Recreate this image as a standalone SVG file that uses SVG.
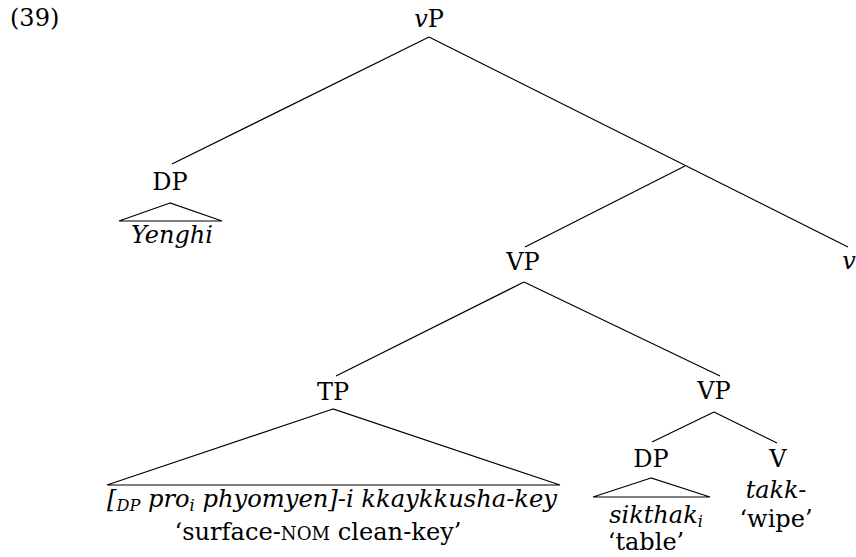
<svg xmlns="http://www.w3.org/2000/svg" width="856" height="557" viewBox="0 0 856 557">
<style>
text{font-family:"DejaVu Serif",serif;font-size:24px;fill:#000;text-anchor:middle}
.it{font-style:italic}
.sub{font-size:16px}
line,polygon{stroke:#000;stroke-width:1.2;fill:none}
</style>
<rect width="856" height="557" fill="#fff"/>
<text x="10" y="26" style="text-anchor:start">(39)</text>
<g id="connectors">
<line x1="429" y1="37" x2="172" y2="164"/>
<line x1="429" y1="37" x2="848" y2="247"/>
<line x1="685" y1="166" x2="525" y2="247"/>
<line x1="524" y1="282" x2="336" y2="376"/>
<line x1="524" y1="282" x2="720" y2="376"/>
<line x1="714" y1="412" x2="652" y2="442"/>
<line x1="714" y1="412" x2="777" y2="443"/>
</g>
<g id="vP"><text x="429" y="27"><tspan class="it">v</tspan>P</text></g>
<g id="DP1"><text x="170" y="190">DP</text>
<polygon points="170,203 119,221 222,221"/>
<text x="172" y="243" class="it">Yenghi</text></g>
<g id="VP1"><text x="523" y="270">VP</text></g>
<g id="v"><text x="849" y="269" class="it">v</text></g>
<g id="TP"><text x="333" y="400">TP</text>
<polygon points="333,409 107,485 560,485"/>
<text x="332" y="507" class="it" textLength="450" lengthAdjust="spacingAndGlyphs">[<tspan class="sub" dy="4">DP</tspan><tspan dy="-4"> pro</tspan><tspan class="sub" dy="4">i</tspan><tspan dy="-4"> phyomyen]-i kkaykkusha-key</tspan></text>
<text x="318" y="540" textLength="287" lengthAdjust="spacingAndGlyphs">‘surface-<tspan font-size="18">NOM</tspan> clean-key’</text></g>
<g id="VP2"><text x="714" y="399">VP</text></g>
<g id="DP2"><text x="651" y="467">DP</text>
<polygon points="651,478 593,497 710,497"/>
<text x="656" y="523" class="it">sikthak<tspan class="sub" dy="4">i</tspan></text>
<text x="646" y="550">‘table’</text></g>
<g id="V"><text x="778" y="467">V</text>
<text x="776" y="498" class="it">takk-</text>
<text x="776" y="527">‘wipe’</text></g>
</svg>
